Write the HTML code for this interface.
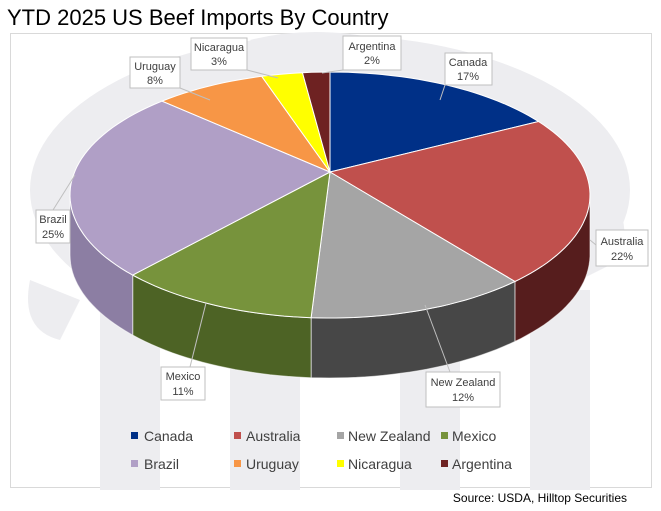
<!DOCTYPE html>
<html><head><meta charset="utf-8"><style>
body{margin:0;background:#fff;width:661px;height:511px;overflow:hidden;font-family:"Liberation Sans",sans-serif}
</style></head><body>
<svg id="s" width="661" height="511" xmlns="http://www.w3.org/2000/svg" style="position:absolute;left:0;top:0">
<text x="7" y="25" font-size="22" fill="#000" font-family="Liberation Sans">YTD 2025 US Beef Imports By Country</text>
<rect x="10.5" y="33.5" width="641" height="454" fill="#fff" stroke="#d9d9d9"/>
<g fill="#ededf0">
<ellipse cx="330" cy="190" rx="300" ry="155"/>
<path d="M30 280 Q20 330 60 340 L80 300 Z"/>
<rect x="100" y="300" width="60" height="190"/>
<rect x="230" y="330" width="70" height="160"/>
<rect x="400" y="330" width="60" height="160"/>
<rect x="530" y="290" width="60" height="200"/>
<path d="M570 160 Q640 200 620 260 L580 280 Z"/>
<path d="M250 40 Q330 20 420 50 L330 80 Z"/>
</g>
<g id="pie"></g>
<g font-size="11" fill="#404040" text-anchor="middle" font-family="Liberation Sans">
<g stroke="#bfbfbf" fill="#fff"><rect x="445" y="53" width="47" height="32"/><rect x="343" y="36" width="58" height="34"/><rect x="191" y="38" width="56" height="32"/><rect x="130" y="57" width="50" height="31"/><rect x="36" y="210" width="34" height="33"/><rect x="596" y="230" width="52" height="36"/><rect x="161" y="367" width="44" height="33"/><rect x="426" y="372" width="74" height="35"/></g>
<g stroke="#bfbfbf" fill="none"><path d="M445 85 L440 100"/><path d="M343 70 L322 73"/><path d="M247 70 L278 78"/><path d="M180 88 L210 100"/><path d="M53 210 L75 175"/><path d="M596 245 L590 240"/><path d="M190 367 L206 303"/><path d="M450 372 L425 305"/></g>
<text x="468" y="66">Canada</text><text x="468" y="80">17%</text>
<text x="372" y="50">Argentina</text><text x="372" y="64">2%</text>
<text x="219" y="51">Nicaragua</text><text x="219" y="65">3%</text>
<text x="155" y="70">Uruguay</text><text x="155" y="84">8%</text>
<text x="53" y="223">Brazil</text><text x="53" y="238">25%</text>
<text x="622" y="245">Australia</text><text x="622" y="260">22%</text>
<text x="183" y="380">Mexico</text><text x="183" y="395">11%</text>
<text x="463" y="386">New Zealand</text><text x="463" y="401">12%</text>
</g>
<g font-size="14" fill="#404040" font-family="Liberation Sans">
<rect x="131" y="432" width="7" height="7" fill="#003087"/><text x="144" y="441">Canada</text>
<rect x="234" y="432" width="7" height="7" fill="#c0504d"/><text x="246" y="441">Australia</text>
<rect x="337" y="432" width="7" height="7" fill="#a5a5a5"/><text x="348" y="441">New Zealand</text>
<rect x="441" y="432" width="7" height="7" fill="#77933c"/><text x="452" y="441">Mexico</text>
<rect x="131" y="460" width="7" height="7" fill="#b09fc6"/><text x="144" y="469">Brazil</text>
<rect x="234" y="460" width="7" height="7" fill="#f79646"/><text x="246" y="469">Uruguay</text>
<rect x="337" y="460" width="7" height="7" fill="#ffff00"/><text x="348" y="469">Nicaragua</text>
<rect x="441" y="460" width="7" height="7" fill="#6e2222"/><text x="452" y="469">Argentina</text>
</g>
<text x="627" y="502" font-size="12" fill="#000" text-anchor="end" font-family="Liberation Sans">Source: USDA, Hilltop Securities</text>
</svg>
<script>
var cx=330,cy=195,rx=260,ry=123,ax=330,ay=172,D=60;
var d=[[17,'#003087','#001a4d'],[22,'#c0504d','#561d1d'],[12,'#a5a5a5','#474747'],[11,'#77933c','#4d6325'],[25,'#b09fc6','#8c7ea3'],[8,'#f79646','#a0602a'],[3,'#ffff00','#999900'],[2,'#6e2222','#401010']];
function W(t){return t-9*Math.sin(t*Math.PI/180);}
function P(t,o){t=t*Math.PI/180;return [cx+rx*Math.sin(t),cy-ry*Math.cos(t)+(o||0)];}
function arc(a,b,o,st){var s='';for(var t=a;;t+=st){if((st>0&&t>b)||(st<0&&t<b))t=b;var p=P(t,o);s+=(s?'L':'M')+p[0].toFixed(1)+' '+p[1].toFixed(1);if(t==b)break;}return s;}
var g=document.getElementById('pie'),a=0,sides='',tops='';
d.forEach(function(x){var b=a+x[0]*3.6;var A=W(a),B=W(b);var s=Math.max(A,90),e=Math.min(B,270);
if(s<e){var p=arc(s,e,0,2)+arc(e,s,D,-2).replace('M','L')+'Z';sides+='<path d="'+p+'" fill="'+x[2]+'" stroke="#fff" stroke-opacity=".6" stroke-width="1"/>';}
tops+='<path d="M'+ax+' '+ay+arc(A,B,0,2).replace('M','L')+'Z" fill="'+x[1]+'" stroke="#fff" stroke-width="1"/>';a=b;});
g.innerHTML=sides+tops;
</script>
</body></html>
